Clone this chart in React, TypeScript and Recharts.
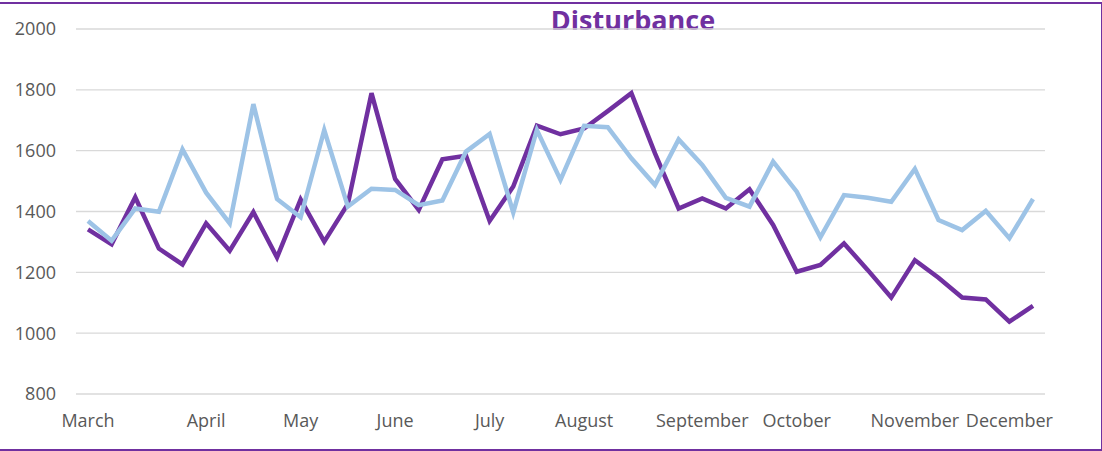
import { LineChart, Line, XAxis, YAxis, CartesianGrid } from "recharts";

// weekly points, March to December; month name on the first week of each month
const weekLabels = [
  "March", "", "", "", "", "April", "", "", "", "May", "", "", "", "June", "", "", "",
  "July", "", "", "", "August", "", "", "", "", "September", "", "", "", "October",
  "", "", "", "", "November", "", "", "", "December", "",
];

const purpleSeries = [
  1341, 1292, 1447, 1278, 1226, 1361, 1271, 1398, 1249, 1440, 1301, 1425, 1789, 1507,
  1405, 1572, 1583, 1369, 1482, 1682, 1654, 1673, 1730, 1789, 1591, 1410, 1443, 1410,
  1473, 1356, 1202, 1224, 1295, 1208, 1117, 1240, 1182, 1117, 1111, 1038, 1090,
];

const blueSeries = [
  1369, 1304, 1410, 1399, 1604, 1462, 1361, 1753, 1441, 1381, 1668, 1416, 1475, 1471,
  1421, 1436, 1597, 1655, 1397, 1668, 1504, 1682, 1677, 1575, 1487, 1637, 1553, 1445,
  1416, 1564, 1465, 1315, 1454, 1445, 1432, 1540, 1372, 1339, 1402, 1312, 1441,
];

const yTicks = [800, 1000, 1200, 1400, 1600, 1800, 2000];

const data = weekLabels.map((label, i) => ({
  label,
  purple: purpleSeries[i],
  blue: blueSeries[i],
}));

const FONT = "'Open Sans', sans-serif";

export default function App() {
  return (
    <div style={{ position: "absolute", left: 0, top: 0, width: 1102, height: 451, background: "#fff" }}>
      {/* frame */}
      <div
        style={{
          position: "absolute",
          left: -2,
          top: 2,
          width: 1101,
          height: 445,
          border: "2px solid #7030a0",
        }}
      />
      <div
        style={{
          position: "absolute",
          left: 633,
          top: 1,
          transform: "translateX(-50%)",
          fontFamily: FONT,
          fontWeight: 700,
          fontSize: 27,
          color: "#7030a0",
          whiteSpace: "nowrap",
        }}
      >
        Disturbance
      </div>
      <div style={{ position: "absolute", left: 0, top: 0 }}>
        <LineChart
          width={1102}
          height={451}
          data={data}
          margin={{ top: 29, right: 57, bottom: 27, left: 0 }}
        >
          <CartesianGrid vertical={false} stroke="#d9d9d9" strokeWidth={1.3} />
          <XAxis
            dataKey="label"
            interval={0}
            axisLine={false}
            tickLine={false}
            tickSize={0}
            tickMargin={20}
            height={30}
            padding={{ left: 12, right: 12 }}
            tick={{ fill: "#595959", fontSize: 18, fontFamily: FONT }}
          />
          <YAxis
            domain={[800, 2000]}
            ticks={yTicks}
            width={76}
            axisLine={false}
            tickLine={false}
            tickSize={0}
            tickMargin={20}
            tick={{ fill: "#595959", fontSize: 18, fontFamily: FONT }}
          />
          <Line
            dataKey="purple"
            name="Purple"
            stroke="#7030a0"
            strokeWidth={4.5}
            dot={false}
            isAnimationActive={false}
          />
          <Line
            dataKey="blue"
            name="Blue"
            stroke="#9dc3e6"
            strokeWidth={4.5}
            dot={false}
            isAnimationActive={false}
          />
        </LineChart>
      </div>
    </div>
  );
}
